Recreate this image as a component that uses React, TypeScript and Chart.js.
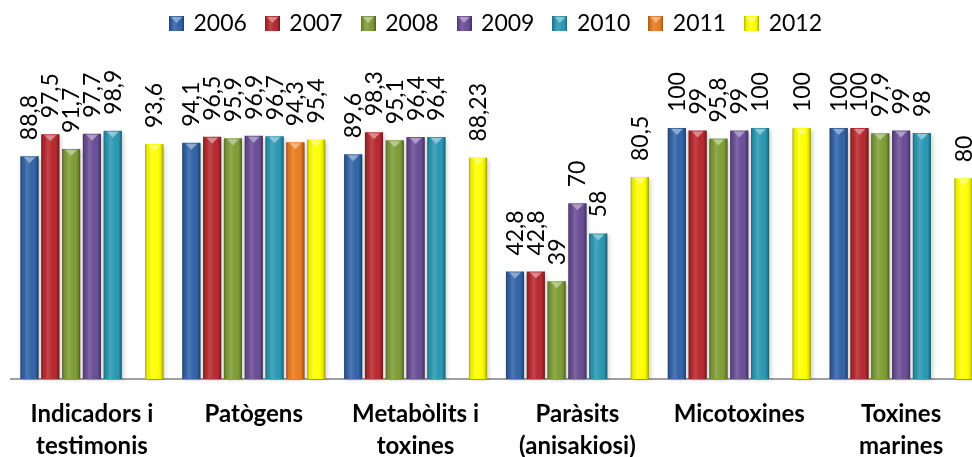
import React, { useEffect, useRef } from 'react';
import { Chart, registerables } from 'chart.js';

Chart.register(...registerables);

const categories: string[][] = [
  ['Indicadors i', 'testimonis'],
  ['Patògens'],
  ['Metabòlits i', 'toxines'],
  ['Paràsits', '(anisakiosi)'],
  ['Micotoxines'],
  ['Toxines', 'marines'],
];
const years = ['2006', '2007', '2008', '2009', '2010', '2011', '2012'];
const v2006 = [88.8, 94.1, 89.6, 42.8, 100, 100];
const v2007 = [97.5, 96.5, 98.3, 42.8, 99, 100];
const v2008 = [91.7, 95.9, 95.1, 39, 95.8, 97.9];
const v2009 = [97.7, 96.9, 96.4, 70, 99, 99];
const v2010 = [98.9, 96.7, 96.4, 58, 100, 98];
const v2011 = [null, 94.3, null, null, null, null];
const v2012 = [93.6, 95.4, 88.23, 80.5, 100, 80];
const seriesValues = [v2006, v2007, v2008, v2009, v2010, v2011, v2012];
const colors = ['#3163A7', '#B7282E', '#7E9C35', '#6A4D96', '#2A98B3', '#E97B1E', '#FFFF00'];

function mix(hex: string, t: number, target = 255) {
  const n = parseInt(hex.slice(1), 16);
  const r = (n >> 16) & 255, g = (n >> 8) & 255, b = n & 255;
  const f = (c: number) => Math.round(c + (target - c) * t);
  return `rgb(${f(r)},${f(g)},${f(b)})`;
}

function shadeOverlay(ctx: CanvasRenderingContext2D, l: number, w: number) {
  const g = ctx.createLinearGradient(l, 0, l + w, 0);
  g.addColorStop(0, 'rgba(0,0,0,0.32)');
  g.addColorStop(0.12, 'rgba(0,0,0,0.06)');
  g.addColorStop(0.35, 'rgba(255,255,255,0.14)');
  g.addColorStop(0.65, 'rgba(255,255,255,0)');
  g.addColorStop(0.88, 'rgba(0,0,0,0.12)');
  g.addColorStop(1, 'rgba(0,0,0,0.4)');
  return g;
}

function makeMarker(color: string) {
  const c = document.createElement('canvas');
  c.width = 15;
  c.height = 15;
  const ctx = c.getContext('2d')!;
  ctx.fillStyle = color;
  ctx.fillRect(0, 0, 15, 15);
  ctx.fillStyle = shadeOverlay(ctx, 0, 15);
  ctx.fillRect(0, 0, 15, 15);
  ctx.fillStyle = mix(color, 0.45);
  ctx.beginPath();
  ctx.moveTo(2, 1);
  ctx.lineTo(13, 1);
  ctx.lineTo(7.5, 7);
  ctx.closePath();
  ctx.fill();
  return c;
}

const fmt = (v: number) => String(v).replace('.', ',');

const barStylePlugin = {
  id: 'barStyle',
  beforeDatasetsDraw(chart: any) {
    const ctx = chart.ctx as CanvasRenderingContext2D;
    chart.data.datasets.forEach((ds: any, di: number) => {
      const meta = chart.getDatasetMeta(di);
      meta.data.forEach((el: any, i: number) => {
        if (ds.data[i] == null) return;
        const { x, y, base, width } = el.getProps(['x', 'y', 'base', 'width'], true);
        ctx.save();
        ctx.shadowColor = 'rgba(0,0,0,0.35)';
        ctx.shadowBlur = 4;
        ctx.shadowOffsetX = 2;
        ctx.shadowOffsetY = 1;
        ctx.fillStyle = 'rgba(120,120,120,0.5)';
        ctx.fillRect(x - width / 2, y + 1, width, base - y - 1);
        ctx.restore();
      });
    });
  },
  afterDatasetsDraw(chart: any) {
    const ctx = chart.ctx as CanvasRenderingContext2D;
    chart.data.datasets.forEach((ds: any, di: number) => {
      const meta = chart.getDatasetMeta(di);
      meta.data.forEach((el: any, i: number) => {
        const v = ds.data[i];
        if (v == null) return;
        const { x, y, base, width } = el.getProps(['x', 'y', 'base', 'width'], true);
        const l = x - width / 2;
        const r = x + width / 2;
        ctx.save();
        ctx.fillStyle = shadeOverlay(ctx, l, width);
        ctx.fillRect(l, y, width, base - y);
        ctx.fillStyle = mix(colors[di], 0.45);
        ctx.beginPath();
        ctx.moveTo(l + width * 0.18, y + 1);
        ctx.lineTo(r - width * 0.18, y + 1);
        ctx.lineTo(x, y + 7);
        ctx.closePath();
        ctx.fill();
        ctx.restore();

        ctx.save();
        ctx.font = '23px Lato';
        ctx.fillStyle = '#000';
        ctx.textAlign = 'left';
        ctx.textBaseline = 'alphabetic';
        ctx.translate(x, y - 16);
        ctx.rotate(-Math.PI / 2);
        ctx.fillText(fmt(v), 0, 8);
        ctx.restore();
      });
    });
  },
};

export default function App() {
  const ref = useRef<HTMLCanvasElement>(null);

  useEffect(() => {
    const canvas = ref.current!;
    const markers = colors.map(makeMarker);
    const chart = new Chart(canvas, {
      type: 'bar',
      data: {
        labels: categories,
        datasets: years.map((yr, i) => ({
          label: yr,
          data: seriesValues[i],
          backgroundColor: colors[i],
          borderWidth: 0,
          categoryPercentage: 0.9,
          barPercentage: 0.87,
        })),
      },
      options: {
        responsive: false,
        animation: false,
        layout: { padding: { left: 11, right: 0, top: -8, bottom: 0 } },
        plugins: {
          tooltip: { enabled: false },
          legend: {
            position: 'top',
            labels: {
              font: { family: 'Lato', size: 23 },
              color: '#000',
              usePointStyle: true,
              pointStyleWidth: 11,
              padding: 20,
              generateLabels: () =>
                years.map((yr, i) => ({
                  text: yr,
                  fillStyle: colors[i],
                  strokeStyle: colors[i],
                  lineWidth: 0,
                  pointStyle: markers[i],
                  datasetIndex: i,
                  hidden: false,
                  fontColor: '#000',
                })),
            },
          },
        },
        scales: {
          x: {
            grid: { display: false, drawTicks: false },
            border: { display: true, color: '#A0A0A0', width: 2 },
            ticks: {
              font: { family: 'Lato', size: 24, weight: 'bold', lineHeight: 1.3 },
              color: '#000',
              padding: 20,
              autoSkip: false,
              maxRotation: 0,
            },
            afterFit: (scale: any) => {
              scale.height = 78;
            },
          },
          y: {
            display: false,
            min: 0,
            max: 133.1,
          },
        },
      },
      plugins: [barStylePlugin],
    } as any);
    return () => chart.destroy();
  }, []);

  return (
    <div
      style={{
        position: 'fixed',
        left: 0,
        top: 0,
        width: 972,
        height: 457,
        overflow: 'hidden',
        background: '#fff',
      }}
    >
      <canvas ref={ref} width={982} height={457} style={{ display: 'block' }} />
    </div>
  );
}
